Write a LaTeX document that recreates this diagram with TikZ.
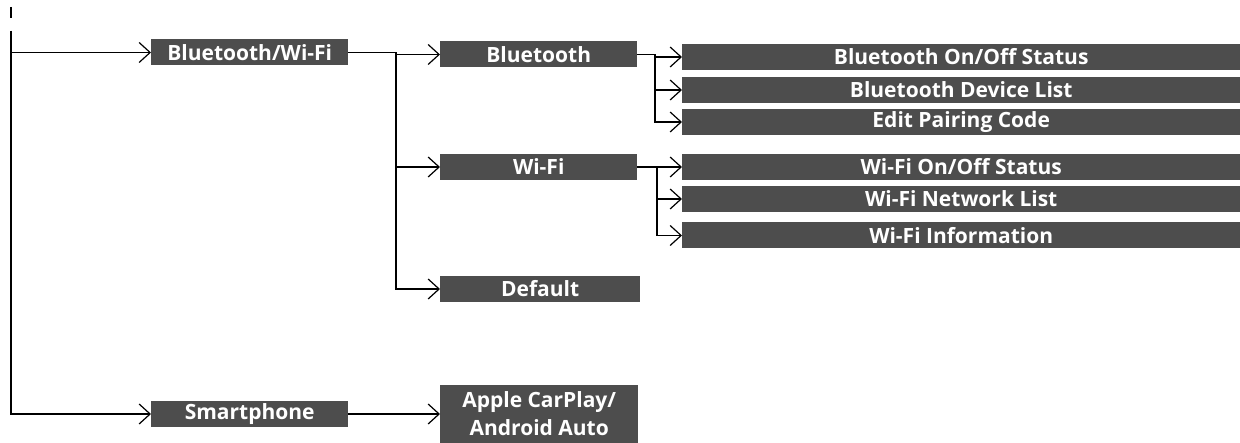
\documentclass[tikz,border=0pt]{standalone}
\usepackage{fontspec}
\setmainfont{Open Sans}
\usetikzlibrary{arrows.meta}
\definecolor{menugray}{RGB}{77,77,77}
\tikzset{
  menubox/.style={fill=menugray,text=white,font=\fontsize{21}{28}\selectfont\bfseries,
    inner sep=0pt,anchor=west,minimum height=26pt,align=center},
  link/.style={line width=1.5pt},
  linkarr/.style={link,-{Straight Barb[length=11pt,width=20pt,line width=1.2pt]}}
}
\begin{document}
\begin{tikzpicture}[x=1pt,y=-1pt]
\useasboundingbox (0,0) rectangle (1240,443);
% level 1
\node[menubox,minimum width=197pt] (btwifi) at (151,52.5) {Bluetooth/Wi-Fi};
\node[menubox,minimum width=197pt] (smart) at (151,414) {Smartphone};
% level 2
\node[menubox,minimum width=197pt] (bt) at (440,54.5) {Bluetooth};
\node[menubox,minimum width=197pt] (wifi) at (440,167) {Wi-Fi};
\node[menubox,minimum width=200pt] (default) at (440,289) {Default};
\node[menubox,minimum width=198pt,minimum height=58pt] (carplay) at (440,414) {Apple CarPlay/\\Android Auto};
% level 3
\node[menubox,minimum width=558pt] (btonoff) at (682,57) {Bluetooth On/Off Status};
\node[menubox,minimum width=558pt] (btlist) at (682,90) {Bluetooth Device List};
\node[menubox,minimum width=558pt] (btcode) at (682,122) {Edit Pairing Code};
\node[menubox,minimum width=558pt] (wfonoff) at (682,167) {Wi-Fi On/Off Status};
\node[menubox,minimum width=558pt] (wflist) at (682,199) {Wi-Fi Network List};
\node[menubox,minimum width=558pt] (wfinfo) at (682,235.5) {Wi-Fi Information};
% junctions
\coordinate (tick) at (11,7);
\coordinate (root) at (11,31);
\coordinate (jmain) at (396,52.5);
\coordinate (jbt) at (655,54.5);
\coordinate (jwf) at (657,167);
% connectors
\draw[link] (tick) -- ++(0,11);
\draw[linkarr] (root) |- (btwifi.west);
\draw[linkarr] (root) |- (smart.west);
\draw[link] (btwifi.east) -- (jmain);
\draw[linkarr] (jmain) |- (bt.west);
\draw[linkarr] (jmain) |- (wifi.west);
\draw[linkarr] (jmain) |- (default.west);
\draw[link] (bt.east) -- (jbt);
\draw[linkarr] (jbt) |- (btonoff.west);
\draw[linkarr] (jbt) |- (btlist.west);
\draw[linkarr] (jbt) |- (btcode.west);
\draw[link] (wifi.east) -- (jwf);
\draw[linkarr] (jwf) |- (wfonoff.west);
\draw[linkarr] (jwf) |- (wflist.west);
\draw[linkarr] (jwf) |- (wfinfo.west);
\draw[linkarr] (smart.east) -- (carplay.west);
\end{tikzpicture}
\end{document}
